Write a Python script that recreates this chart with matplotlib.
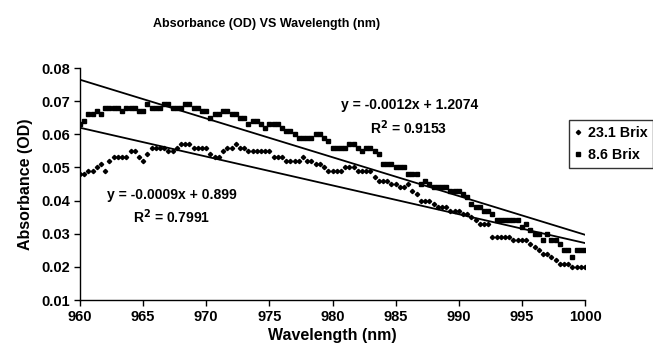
import numpy as np
import matplotlib
matplotlib.use("Agg")
import matplotlib.pyplot as plt

plt.rcParams['font.family'] = ['Liberation Sans', 'DejaVu Sans']
plt.rcParams['font.weight'] = 'bold'

# Wellenlaengen-Raster (nm), Schritt 1/3 nm
wavelength = np.linspace(960, 1000, 121)

# 23.1 Brix (Rauten)
brix_23_1 = [
    0.048, 0.048, 0.049, 0.049, 0.050, 0.051, 0.049, 0.052, 0.053, 0.053,
    0.053, 0.053, 0.055, 0.055, 0.053, 0.052, 0.054, 0.056, 0.056, 0.056,
    0.056, 0.055, 0.055, 0.056, 0.057, 0.057, 0.057, 0.056, 0.056, 0.056,
    0.056, 0.054, 0.053, 0.053, 0.055, 0.056, 0.056, 0.057, 0.056, 0.056,
    0.055, 0.055, 0.055, 0.055, 0.055, 0.055, 0.053, 0.053, 0.053, 0.052,
    0.052, 0.052, 0.052, 0.053, 0.052, 0.052, 0.051, 0.051, 0.050, 0.049,
    0.049, 0.049, 0.049, 0.050, 0.050, 0.050, 0.049, 0.049, 0.049, 0.049,
    0.047, 0.046, 0.046, 0.046, 0.045, 0.045, 0.044, 0.044, 0.045, 0.043,
    0.042, 0.040, 0.040, 0.040, 0.039, 0.038, 0.038, 0.038, 0.037, 0.037,
    0.037, 0.036, 0.036, 0.035, 0.034, 0.033, 0.033, 0.033, 0.029, 0.029,
    0.029, 0.029, 0.029, 0.028, 0.028, 0.028, 0.028, 0.027, 0.026, 0.025,
    0.024, 0.024, 0.023, 0.022, 0.021, 0.021, 0.021, 0.020, 0.020, 0.020,
    0.020,
]

# 8.6 Brix (Quadrate)
brix_8_6 = [
    0.063, 0.064, 0.066, 0.066, 0.067, 0.066, 0.068, 0.068, 0.068, 0.068,
    0.067, 0.068, 0.068, 0.068, 0.067, 0.067, 0.069, 0.068, 0.068, 0.068,
    0.069, 0.069, 0.068, 0.068, 0.068, 0.069, 0.069, 0.068, 0.068, 0.067,
    0.067, 0.065, 0.066, 0.066, 0.067, 0.067, 0.066, 0.066, 0.065, 0.065,
    0.063, 0.064, 0.064, 0.063, 0.062, 0.063, 0.063, 0.063, 0.062, 0.061,
    0.061, 0.060, 0.059, 0.059, 0.059, 0.059, 0.060, 0.060, 0.059, 0.058,
    0.056, 0.056, 0.056, 0.056, 0.057, 0.057, 0.056, 0.055, 0.056, 0.056,
    0.055, 0.054, 0.051, 0.051, 0.051, 0.050, 0.050, 0.050, 0.048, 0.048,
    0.048, 0.045, 0.046, 0.045, 0.044, 0.044, 0.044, 0.044, 0.043, 0.043,
    0.043, 0.042, 0.041, 0.039, 0.038, 0.038, 0.037, 0.037, 0.036, 0.034,
    0.034, 0.034, 0.034, 0.034, 0.034, 0.032, 0.033, 0.031, 0.030, 0.030,
    0.028, 0.030, 0.028, 0.028, 0.027, 0.025, 0.025, 0.023, 0.025, 0.025,
    0.025,
]

x_ticks = [960, 965, 970, 975, 980, 985, 990, 995, 1000]
y_ticks = [0.01, 0.02, 0.03, 0.04, 0.05, 0.06, 0.07, 0.08]

W, H = 653, 362
fig = plt.figure(figsize=(W / 100, H / 100), dpi=100)
ax = fig.add_axes([80/W, 62/H, 505/W, 232/H])

ax.plot(wavelength, brix_23_1, linestyle='none', marker='D', markersize=2.2,
        color='black', label='23.1 Brix')
ax.plot(wavelength, brix_8_6, linestyle='none', marker='s', markersize=3.0,
        color='black', label='8.6 Brix')

# lineare Trendlinien
xs = np.array([960, 1000])
for serie in (brix_23_1, brix_8_6):
    k, d = np.polyfit(wavelength, serie, 1)
    ax.plot(xs, k * xs + d, color='black', linewidth=1.3)

ax.set_xlim(960, 1000)
ax.set_ylim(0.01, 0.08)
ax.set_xticks(x_ticks)
ax.set_yticks(y_ticks)
ax.set_xticklabels([str(v) for v in x_ticks], fontsize=10.5, fontweight='bold')
ax.set_yticklabels([f'{v:.2f}' for v in y_ticks], fontsize=10.5, fontweight='bold')
ax.tick_params(direction='out', length=4, width=1, color='black', pad=3)
ax.spines['top'].set_visible(False)
ax.spines['right'].set_visible(False)
for s in ('left', 'bottom'):
    ax.spines[s].set_linewidth(1)

ax.set_xlabel('Wavelength (nm)', fontsize=11.5, fontweight='bold', labelpad=3)
ax.set_ylabel('Absorbance (OD)', fontsize=11.5, fontweight='bold', labelpad=6)

fig.text(267/W, 1 - 24/H, 'Absorbance (OD) VS Wavelength (nm)',
         ha='center', va='center', fontsize=9, fontweight='bold')


def label(px, py, s):
    fig.text(px / W, 1 - py / H, s, fontsize=10, fontweight='bold',
             ha='center', va='center')


label(410, 105, 'y = -0.0012x + 1.2074')
label(409, 128, r'R$^2$ = 0.9153')
label(172, 195, 'y = -0.0009x + 0.899')
label(172, 217, r'R$^2$ = 0.7991')

leg = ax.legend(loc='upper left', bbox_to_anchor=(569/W, 1 - 120/H),
                bbox_transform=fig.transFigure, frameon=True, fancybox=False,
                edgecolor='black', handlelength=0.5, borderaxespad=0,
                handletextpad=0.4, borderpad=0.4, labelspacing=0.6,
                prop={'weight': 'bold', 'size': 10.3})
leg.get_frame().set_linewidth(1)

fig.savefig('out.png', dpi=100)
